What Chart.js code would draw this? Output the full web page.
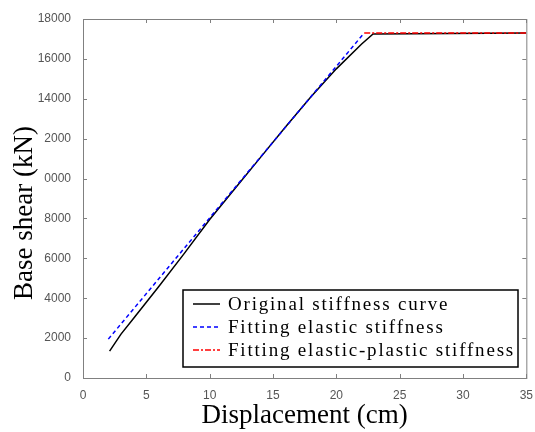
<!DOCTYPE html>
<html>
<head>
<meta charset="utf-8">
<script src="https://cdn.jsdelivr.net/npm/chart.js@4/dist/chart.umd.min.js"></script>
<style>
  html, body { margin: 0; padding: 0; background: #fff; }
  #wrap { width: 535px; height: 432px; }
</style>
</head>
<body>
<div id="wrap"><canvas id="chart" width="535" height="432"></canvas></div>
<script>
// ---------------- data ----------------
const originalX = [2.1, 3, 4, 5, 6, 8, 10, 12, 14, 16, 18, 20, 22, 22.9, 35];
const originalY = [1350, 2200, 3000, 3800, 4600, 6250, 7950, 9500, 11050, 12600, 14100, 15500, 16750, 17250, 17300];

const elasticX = [2, 22.2];
const elasticY = [1950, 17300];

const plasticX = [22.2, 35];
const plasticY = [17300, 17300];

const xTicks = [0, 5, 10, 15, 20, 25, 30, 35];
const yTicks = [0, 2000, 4000, 6000, 8000, 10000, 12000, 14000, 16000, 18000];
// labels as printed in the figure
const yTickLabels = ['0', '2000', '4000', '6000', '8000', '0000', '2000', '14000', '16000', '18000'];

const seriesNames = ['Original stiffness curve', 'Fitting elastic stiffness', 'Fitting elastic-plastic stiffness'];
const yTitle = 'Base shear (kN)';

function toPoints(xs, ys) {
    return xs.map((x, i) => ({ x: x, y: ys[i] }));
}

// box around plot + inward ticks + y title (sits a bit low in the figure)
const framePlugin = {
    id: 'frame',
    afterDraw(chart) {
        const ctx = chart.ctx;
        const a = chart.chartArea;
        const xs = chart.scales.x, ys = chart.scales.y;
        ctx.save();
        ctx.strokeStyle = '#808080';
        ctx.lineWidth = 1;
        ctx.strokeRect(a.left + 0.5, a.top + 0.5, a.right - a.left, a.bottom - a.top);
        ctx.beginPath();
        xTicks.forEach(v => {
            const px = Math.round(xs.getPixelForValue(v)) + 0.5;
            ctx.moveTo(px, a.bottom); ctx.lineTo(px, a.bottom - 4);
            ctx.moveTo(px, a.top); ctx.lineTo(px, a.top + 4);
        });
        yTicks.forEach(v => {
            const py = Math.round(ys.getPixelForValue(v)) + 0.5;
            ctx.moveTo(a.left, py); ctx.lineTo(a.left + 4, py);
            ctx.moveTo(a.right, py); ctx.lineTo(a.right - 4, py);
        });
        ctx.stroke();

        ctx.translate(25, 213);
        ctx.rotate(-Math.PI / 2);
        ctx.font = '27px "Liberation Serif", serif';
        ctx.fillStyle = '#000';
        ctx.textAlign = 'center';
        ctx.textBaseline = 'middle';
        ctx.fillText(yTitle, 0, 0);
        ctx.restore();
    }
};

// legend box inside the plot, lower right
const boxLegend = {
    id: 'boxLegend',
    afterDraw(chart) {
        const ctx = chart.ctx;
        const left = 183, top = 290, right = 518, bottom = 367;
        ctx.save();
        ctx.fillStyle = '#fff';
        ctx.fillRect(left, top, right - left, bottom - top);
        ctx.strokeStyle = '#000';
        ctx.lineWidth = 1.5;
        ctx.strokeRect(left, top, right - left, bottom - top);
        ctx.font = '19px "Liberation Serif", serif';
        ctx.letterSpacing = '1.8px';
        ctx.textBaseline = 'middle';
        chart.data.datasets.forEach((ds, i) => {
            const y = top + 14 + i * 23;
            ctx.strokeStyle = ds.borderColor;
            ctx.lineWidth = 1.5;
            ctx.setLineDash(ds.borderDash || []);
            ctx.beginPath();
            ctx.moveTo(left + 10, y);
            ctx.lineTo(left + 37, y);
            ctx.stroke();
            ctx.setLineDash([]);
            ctx.fillStyle = '#000';
            ctx.fillText(ds.label, left + 45, y + 1);
        });
        ctx.restore();
    }
};

new Chart(document.getElementById('chart').getContext('2d'), {
    type: 'scatter',
    data: {
        datasets: [
            {
                label: seriesNames[0],
                data: toPoints(originalX, originalY),
                showLine: true,
                borderColor: '#000000',
                borderWidth: 1.5,
                pointRadius: 0,
                order: 3
            },
            {
                label: seriesNames[1],
                data: toPoints(elasticX, elasticY),
                showLine: true,
                borderColor: '#0000ff',
                borderDash: [4, 3],
                borderWidth: 1.5,
                pointRadius: 0,
                order: 1
            },
            {
                label: seriesNames[2],
                data: toPoints(plasticX, plasticY),
                showLine: true,
                borderColor: '#ff0000',
                borderDash: [6, 2, 2, 2],
                borderWidth: 1.5,
                pointRadius: 0,
                order: 2
            }
        ]
    },
    options: {
        responsive: false,
        animation: false,
        layout: { padding: { left: 0, right: 8, top: 19, bottom: 0 } },
        plugins: {
            legend: { display: false },
            tooltip: { enabled: false }
        },
        scales: {
            x: {
                type: 'linear',
                min: 0, max: 35,
                afterBuildTicks(scale) { scale.ticks = xTicks.map(v => ({ value: v })); },
                afterFit(scale) { scale.height = 54; },
                grid: { display: false },
                border: { display: false },
                ticks: {
                    color: '#555',
                    font: { family: '"Liberation Sans", sans-serif', size: 12 },
                    padding: 2,
                    maxRotation: 0
                },
                title: {
                    display: true,
                    text: 'Displacement (cm)',
                    color: '#000',
                    font: { family: '"Liberation Serif", serif', size: 27 },
                    padding: { top: 0, bottom: 0 }
                }
            },
            y: {
                type: 'linear',
                min: 0, max: 18000,
                afterBuildTicks(scale) { scale.ticks = yTicks.map(v => ({ value: v })); },
                afterFit(scale) { scale.width = 83; },
                grid: { display: false },
                border: { display: false },
                ticks: {
                    color: '#555',
                    font: { family: '"Liberation Sans", sans-serif', size: 12 },
                    padding: 4,
                    callback: function(value) {
                        const i = yTicks.indexOf(value);
                        return i >= 0 ? yTickLabels[i] : '';
                    }
                },
                title: { display: false }
            }
        }
    },
    plugins: [framePlugin, boxLegend]
});
</script>
</body>
</html>
